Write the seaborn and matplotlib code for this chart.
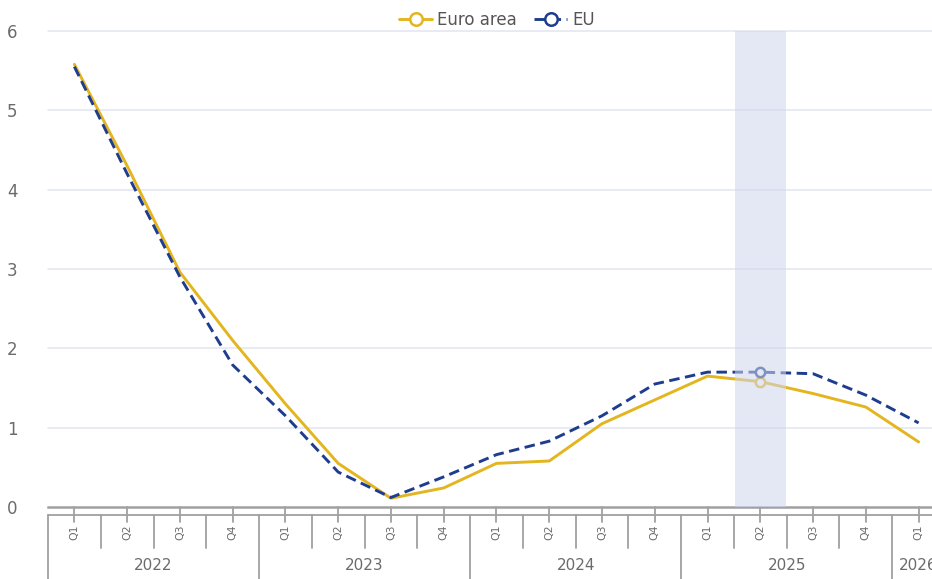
import matplotlib
matplotlib.use("Agg")
import matplotlib.pyplot as plt
import matplotlib.transforms as mtransforms
from matplotlib.lines import Line2D
import seaborn as sns
import pandas as pd

years = ["2022", "2023", "2024", "2025", "2026"]
quarters = ["Q1", "Q2", "Q3", "Q4"]
periods = [f"{y} {q}" for y in years for q in quarters][:17]
q_labels = [p.split()[1] for p in periods]
euro_area = [5.58, 4.30, 2.96, 2.10, 1.30, 0.55, 0.11, 0.24, 0.55, 0.58,
             1.05, 1.35, 1.65, 1.58, 1.43, 1.26, 0.82]
eu = [5.55, 4.20, 2.90, 1.79, 1.15, 0.44, 0.12, 0.38, 0.66, 0.83,
      1.15, 1.55, 1.70, 1.70, 1.68, 1.41, 1.06]
highlight = "2025 Q2"

EURO_C = "#e3b51f"
EU_C = "#1f3d8e"
GRID_C = "#e4e7f1"
TEXT_C = "#6b6b6b"
AXIS_C = "#a0a0a0"

df = pd.DataFrame({"x": range(len(periods)), "period": periods,
                   "Euro area": euro_area, "EU": eu})

sns.set_theme(style="white")
plt.rcParams["font.family"] = ["DejaVu Sans"]

fig = plt.figure(figsize=(9.32, 5.79), dpi=100)
W, H = 932, 579
left, right, top, bottom = 48, 945, 31, 507
ax = fig.add_axes([left / W, (H - bottom) / H, (right - left) / W, (bottom - top) / H])

sns.lineplot(data=df, x="x", y="Euro area", ax=ax, color=EURO_C, lw=2.1, zorder=3)
sns.lineplot(data=df, x="x", y="EU", ax=ax, color=EU_C, lw=2.1,
             linestyle=(0, (3.6, 1.9)), zorder=4)

hi = periods.index(highlight)
ax.scatter([hi], [euro_area[hi]], s=45, facecolor="white", edgecolor=EURO_C, lw=1.8, zorder=5)
ax.scatter([hi], [eu[hi]], s=45, facecolor="white", edgecolor=EU_C, lw=1.8, zorder=5)
ax.axvspan(hi - 0.48, hi + 0.48, color="#cfd6ee", alpha=0.55, lw=0, zorder=6)

ax.set_xlim(-0.5, len(periods) - 0.5)
ax.set_ylim(0, 6)
ax.set_yticks(range(0, 7))
ax.set_yticklabels([str(v) for v in range(0, 7)], fontsize=12, color=TEXT_C)
ax.tick_params(axis="y", length=0, pad=22)
for v in range(1, 7):
    ax.axhline(v, color=GRID_C, lw=1.2, zorder=1, clip_on=False)
ax.set_xticks([])
ax.set_xlabel("")
ax.set_ylabel("")
for s in ["left", "right", "top"]:
    ax.spines[s].set_visible(False)
ax.spines["bottom"].set_color(AXIS_C)
ax.spines["bottom"].set_linewidth(1.8)

ph = bottom - top
def fy(px):
    return -(px - bottom) / ph

trans = mtransforms.blended_transform_factory(ax.transData, ax.transAxes)
n = len(periods)
ax.plot([-0.5, n - 0.5], [fy(515), fy(515)], transform=trans, color=AXIS_C, lw=1.3, clip_on=False)
for i in range(n):
    ax.plot([i, i], [fy(507), fy(522)], transform=trans, color=AXIS_C, lw=1.3, clip_on=False)
    ax.text(i, fy(532), q_labels[i], transform=trans, rotation=90, ha="center", va="center",
            fontsize=7.8, color=TEXT_C)
for i in range(n + 1):
    b = i - 0.5
    y_end = fy(579) if i % 4 == 0 else fy(548)
    ax.plot([b, b], [fy(515), y_end], transform=trans, color=AXIS_C, lw=1.3, clip_on=False)
for k, y in enumerate(years):
    start = k * 4 - 0.5
    end = min(k * 4 + 3.5, n - 0.5)
    ax.text((start + end) / 2, fy(566), y, transform=trans, ha="center", va="center",
            fontsize=11, color=TEXT_C)

handles = [
    Line2D([], [], color=EURO_C, lw=2.1, marker="o", markersize=9, markerfacecolor="white",
           markeredgewidth=1.8),
    Line2D([], [], color=EU_C, lw=2.1, linestyle=(0, (3.6, 1.9)), marker="o", markersize=9,
           markerfacecolor="white", markeredgewidth=1.8),
]
fig.legend(handles, ["Euro area", "EU"], loc="center", bbox_to_anchor=(497 / W, 1 - 20 / H),
           ncol=2, frameon=False, fontsize=12, labelcolor="#555555", handlelength=2.0,
           handletextpad=0.3, columnspacing=1.0)

fig.savefig("out.png", dpi=100)
